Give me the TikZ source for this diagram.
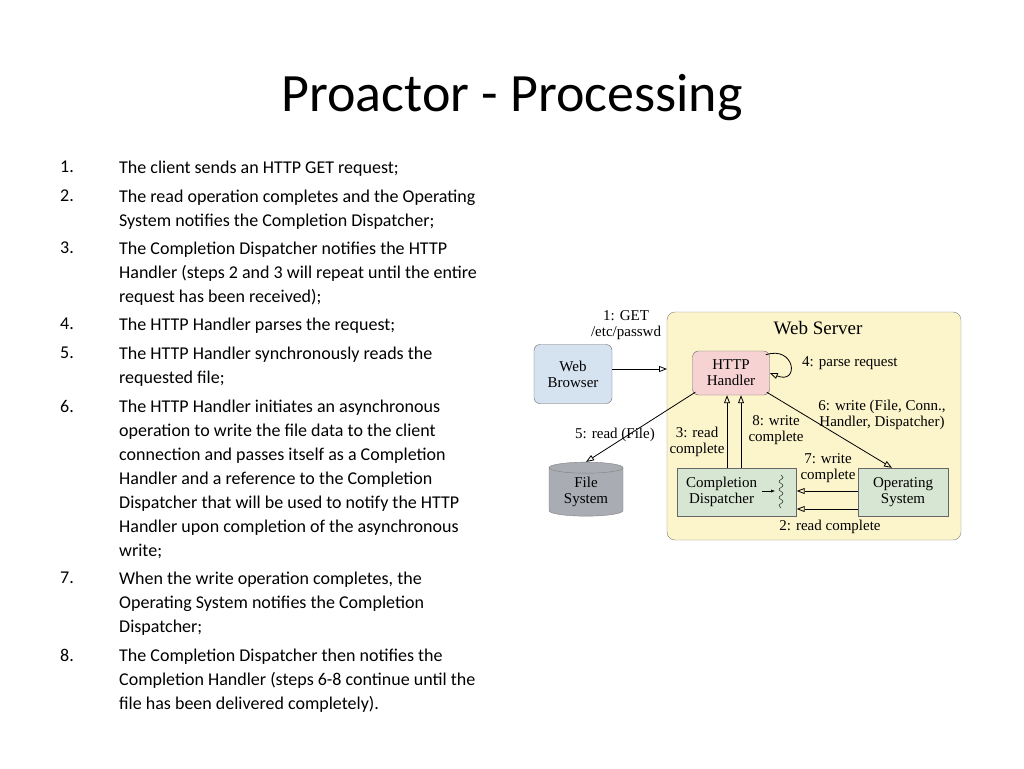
\documentclass[tikz,border=0pt]{standalone}
\usepackage{fontspec}
\setmainfont{Carlito}
\newfontfamily\diagfont{Liberation Serif}
\usetikzlibrary{shapes.geometric,arrows.meta,positioning,decorations.pathmorphing}
\definecolor{serverfill}{HTML}{FCF5CC}
\definecolor{browserfill}{HTML}{D5E2F0}
\definecolor{handlerfill}{HTML}{F7D2D2}
\definecolor{compfill}{HTML}{D7E6D2}
\definecolor{fsfill}{HTML}{A9ADB3}
\begin{document}
\begin{tikzpicture}[x=1pt,y=-1pt,
  every node/.style={inner sep=0pt},
  box/.style={draw=black!60,rounded corners=6pt,align=center,font=\diagfont\fontsize{15}{16}\selectfont},
  flat/.style={draw=black!60,align=center,font=\diagfont\fontsize{15}{16}\selectfont},
  lbl/.style={align=center,font=\diagfont\fontsize{15}{16}\selectfont},
  conn/.style={thick,-{Triangle[open,length=8pt,width=6pt]}},
  item/.style={anchor=north west,align=left,font=\fontsize{18}{24}\selectfont}]
  \useasboundingbox (0,0) rectangle (1024,768);

  % title
  \node[font=\fontsize{54}{60}\selectfont] (title) at (512,98) {Proactor - Processing};

  % list
  \foreach \n/\y in {1/161,2/190,3/242,4/318,5/347,6/400,7/572,8/649}
    \node[item] (num\n) at (60,\y) {\n.};
  \node[item] (t1) at (119,161) {The client sends an HTTP GET request;};
  \node[item] (t2) at (119,190) {The read operation completes and the Operating\\System notifies the Completion Dispatcher;};
  \node[item] (t3) at (119,242) {The Completion Dispatcher notifies the HTTP\\Handler (steps 2 and 3 will repeat until the entire\\request has been received);};
  \node[item] (t4) at (119,318) {The HTTP Handler parses the request;};
  \node[item] (t5) at (119,347) {The HTTP Handler synchronously reads the\\requested file;};
  \node[item] (t6) at (119,400) {The HTTP Handler initiates an asynchronous\\operation to write the file data to the client\\connection and passes itself as a Completion\\Handler and a reference to the Completion\\Dispatcher that will be used to notify the HTTP\\Handler upon completion of the asynchronous\\write;};
  \node[item] (t7) at (119,572) {When the write operation completes, the\\Operating System notifies the Completion\\Dispatcher;};
  \node[item] (t8) at (119,649) {The Completion Dispatcher then notifies the\\Completion Handler (steps 6-8 continue until the\\file has been delivered completely).};

  % diagram
  \draw[draw=black!50,fill=serverfill,rounded corners=8pt] (667,312) rectangle (961,540);
  \node[lbl,font=\diagfont\fontsize{19}{20}\selectfont] (ws) at (818,328) {Web Server};
  \node[box,fill=browserfill,minimum width=78pt,minimum height=59pt] (browser) at (573,374) {Web\\Browser};
  \node[box,fill=handlerfill,minimum width=77pt,minimum height=44pt] (handler) at (731,373) {HTTP\\Handler};
  \node[flat,fill=compfill,minimum width=119pt,minimum height=48pt] (disp) at (737,492) {};
  \node[lbl,anchor=west] (disptext) at (686,492) {Completion\\Dispatcher};
  \node[flat,fill=compfill,minimum width=90pt,minimum height=48pt] (os) at (903,492) {Operating\\System};
  \node[cylinder,shape border rotate=90,draw=black!50,fill=fsfill,aspect=0.25,
        minimum width=74pt,minimum height=54pt,align=center,
        font=\diagfont\fontsize{15}{16}\selectfont] (fs) at (586,492) {File\\System};
  \coordinate (wsin) at (667,369);

  \draw[conn] (browser.east |- wsin) -- (wsin);
  \node[lbl] (l1) at (626,325) {1: GET\\/etc/passwd};
  \draw[conn] (handler.north east) ++(-4,4) .. controls (795,345) and (800,385) .. (handler.east);
  \node[lbl,anchor=west] (l4) at (802,363) {4: parse request};
  \draw[conn] (handler.south west) ++(3,-3) -- (fs.north);
  \node[lbl] (l5) at (615,435) {5: read (File)};
  \draw[conn] (disp.north -| 727,0) -- (handler.south -| 727,0);
  \node[lbl] (l3) at (697,442) {3: read\\complete};
  \draw[conn] (disp.north -| 741,0) -- (handler.south -| 741,0);
  \node[lbl] (l8) at (776,430) {8: write\\complete};
  \draw[conn] (handler.south east) ++(-3,-3) -- (os.north -| 892,0);
  \node[lbl] (l6) at (882,415) {6: write (File, Conn.,\\Handler, Dispatcher)};
  \draw[conn] (os.west |- 0,491) -- (disp.east |- 0,491);
  \node[lbl] (l7) at (828,468) {7: write\\complete};
  \draw[conn] (os.west |- 0,509) -- (disp.east |- 0,509);
  \node[lbl] (l2) at (830,527) {2: read complete};
  % dispatcher wiggle
  \draw[-{Latex[length=4pt]}] (762,491) -- (775,491);
  \draw[decorate,decoration={snake,amplitude=2pt,segment length=8pt}] (781,475) -- (781,508);
\end{tikzpicture}
\end{document}
